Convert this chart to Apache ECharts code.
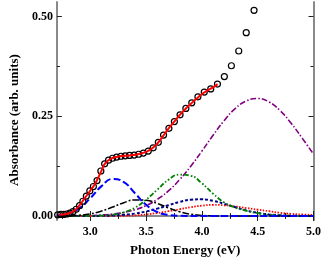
<!DOCTYPE html>
<html>
<head>
<meta charset="utf-8">
<script src="https://cdn.jsdelivr.net/npm/echarts@6/dist/echarts.min.js"></script>
<style>
html,body{margin:0;padding:0;background:#fff;}
#chart{width:324px;height:262px;}
</style>
</head>
<body>
<div id="chart"></div>
<script>
// ---- data ----
const compE = [2.7,2.8,2.9,3.0,3.1,3.2,3.3,3.4,3.5,3.6,3.7,3.8,3.9,4.0,4.1,4.2,4.3,4.4,4.5,4.6,4.7,4.8,4.9,5.0];
const blueComp   = [0.0015,0.0062,0.019,0.045,0.075,0.093,0.085,0.057,0.028,0.010,0.0027,0.0005,0.0001,0,0,0,0,0,0,0,0,0,0,0];
const blackComp  = [0.0001,0.0006,0.002,0.0055,0.0124,0.0226,0.0335,0.0403,0.0395,0.0315,0.0204,0.0107,0.0046,0.0016,0.0005,0.0001,0,0,0,0,0,0,0,0];
const greenComp  = [0,0,0.0001,0.0003,0.001,0.0033,0.0092,0.021,0.041,0.066,0.091,0.104,0.101,0.082,0.056,0.034,0.021,0.013,0.007,0.003,0.0015,0.0005,0.0002,0];
const navyComp   = [0,0,0.0001,0.0002,0.0005,0.0012,0.0029,0.0061,0.0113,0.0186,0.0272,0.0354,0.0408,0.0418,0.038,0.0307,0.022,0.014,0.0079,0.004,0.0018,0.0007,0.0002,0.0001];
const redDotComp = [0,0,0,0,0.0001,0.0002,0.0006,0.0015,0.004,0.0075,0.012,0.017,0.022,0.026,0.028,0.027,0.024,0.020,0.016,0.012,0.008,0.0055,0.0038,0.0025];
const purpleComp = [0.0001,0.0003,0.0006,0.0012,0.0025,0.0048,0.0089,0.0157,0.0262,0.0417,0.0632,0.0911,0.1249,0.163,0.2026,0.2397,0.270,0.289,0.295,0.2864,0.2646,0.2327,0.1948,0.1553];

const fitE = [2.72,2.75,2.80,2.85,2.90,2.95,3.00,3.05,3.10,3.125,3.15,3.20,3.25,3.30,3.35,3.40,3.45,3.50,3.55,3.60,3.65,3.70,3.75,3.80,3.85,3.90,3.95,4.00,4.05,4.10,4.14];
const fitA = [0.003,0.004,0.006,0.012,0.026,0.045,0.064,0.085,0.114,0.129,0.137,0.146,0.149,0.151,0.152,0.154,0.156,0.161,0.169,0.182,0.200,0.219,0.236,0.253,0.268,0.281,0.294,0.306,0.315,0.323,0.331];

const dataE = [2.707,2.734,2.760,2.788,2.816,2.844,2.873,2.903,2.933,2.964,2.995,3.027,3.060,3.094,3.128,3.163,3.199,3.236,3.274,3.312,3.351,3.392,3.433,3.475,3.519,3.563,3.609,3.656,3.704,3.753,3.804,3.856,3.909,3.964,4.021,4.079,4.139,4.201,4.264,4.330,4.397,4.467];
const dataA = [0.003,0.004,0.004,0.005,0.007,0.011,0.017,0.026,0.037,0.050,0.063,0.074,0.089,0.113,0.131,0.140,0.145,0.148,0.150,0.151,0.152,0.153,0.155,0.158,0.163,0.171,0.185,0.203,0.220,0.237,0.254,0.270,0.284,0.299,0.311,0.319,0.331,0.350,0.377,0.414,0.460,0.516];

const xMajor = [3.0,3.5,4.0,4.5,5.0];
const xMinor = [2.75,3.25,3.75,4.25,4.75];
const yMajor = [0,0.25,0.5];
const yMinor = [0.125,0.375];

// ---- chart ----
const zip = (xs, ys) => xs.map((x, i) => [x, ys[i]]);
const FONT = '"Liberation Serif","Times New Roman",serif';
const frame = {show:true, lineStyle:{color:'#8a8a8a', width:2}};
const noLine = {show:false};

function xAx(pos, values, len, line, label) {
  return {
    type:'value', min:2.7, max:5.0, position:pos,
    axisLine: line ? frame : noLine,
    splitLine:{show:false},
    axisTick:{show:true, inside:true, length:len, customValues:values, lineStyle:{color:'#222', width:1}},
    axisLabel: label ? {show:true, customValues:values, formatter:v=>v.toFixed(1), fontFamily:FONT, fontWeight:'bold', fontSize:12, color:'#000', margin:6}
                     : {show:false, customValues:values}
  };
}
function yAx(pos, values, len, line, label) {
  return {
    type:'value', min:-0.01, max:0.537, position:pos,
    axisLine: line ? frame : noLine,
    splitLine:{show:false},
    axisTick:{show:true, inside:true, length:len, customValues:values, lineStyle:{color:'#222', width:1}},
    axisLabel: label ? {show:true, customValues:values, formatter:v=>v.toFixed(2), fontFamily:FONT, fontWeight:'bold', fontSize:12, color:'#000', margin:4}
                     : {show:false, customValues:values}
  };
}

const xA0 = xAx('bottom', xMajor, 5, true, true);
xA0.name = 'Photon Energy (eV)';
xA0.nameLocation = 'middle';
xA0.nameGap = 24;
xA0.nameTextStyle = {fontFamily:FONT, fontWeight:'bold', fontSize:13, color:'#000'};
const yA0 = yAx('left', yMajor, 5, true, true);
yA0.name = 'Absorbance (arb. units)';
yA0.nameLocation = 'middle';
yA0.nameGap = 29;
yA0.nameTextStyle = {fontFamily:FONT, fontWeight:'bold', fontSize:13, color:'#000', padding:[0,18,0,0]};

function comp(vals, color, width, dash) {
  return {type:'line', data:zip(compE, vals), showSymbol:false, smooth:true, xAxisIndex:0, yAxisIndex:0,
          z:2, lineStyle:{color:color, width:width, type:dash}, silent:true};
}

const option = {
  animation:false,
  backgroundColor:'#fff',
  grid:{left:44, right:9, top:2, bottom:40, containLabel:false},
  xAxis:[xA0, xAx('bottom', xMinor, 3, false, false), xAx('top', xMajor, 5, true, false), xAx('top', xMinor, 3, false, false)],
  yAxis:[yA0, yAx('left', yMinor, 3, false, false), yAx('right', yMajor, 5, true, false), yAx('right', yMinor, 3, false, false)],
  series:[
    comp(purpleComp, '#800080', 1.6, [6,2,1.5,2]),
    comp(redDotComp, '#ff0000', 1.8, [1.5,1.5]),
    comp(navyComp, '#00008b', 2, [3,2]),
    comp(greenComp, '#008000', 1.8, [5,2,1.5,2,1.5,2]),
    comp(blackComp, '#000000', 1.5, [7,2,2,2]),
    comp(blueComp, '#0000ff', 2, [7,3]),
    {type:'line', data:zip(dataE, dataA), xAxisIndex:0, yAxisIndex:0, z:3,
     showSymbol:true, showAllSymbol:true, symbol:'circle', symbolSize:6,
     lineStyle:{width:0, opacity:0},
     itemStyle:{color:'rgba(255,255,255,0)', borderColor:'#000000', borderWidth:1.2}, silent:true},
    {type:'line', data:zip(fitE, fitA), showSymbol:false, smooth:true, xAxisIndex:0, yAxisIndex:0, z:5,
     lineStyle:{color:'#ff0000', width:2}, silent:true}
  ]
};
const chart = echarts.init(document.getElementById('chart'), null, {renderer:'canvas'});
chart.setOption(option);
</script>
</body>
</html>
